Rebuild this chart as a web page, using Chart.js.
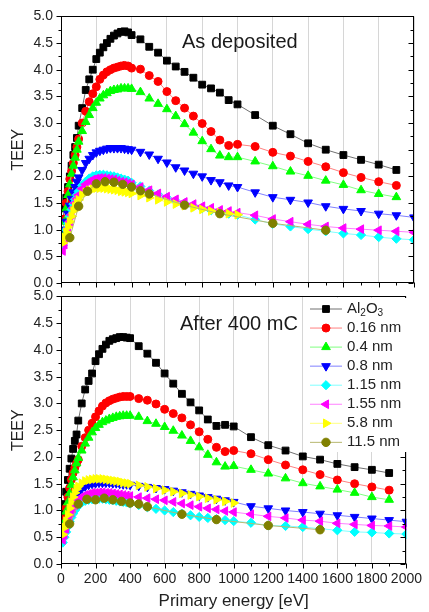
<!DOCTYPE html>
<html>
<head>
<meta charset="utf-8">
<title>TEEY</title>
<script src="https://cdn.jsdelivr.net/npm/chart.js@4.4.1/dist/chart.umd.min.js"></script>
<style>
  body { margin: 0; background: #fff; }
  #wrap { position: relative; width: 429px; height: 612px; }
  canvas { position: absolute; left: 0; }
  #topPanel { top: 0; }
  #bottomPanel { top: 280px; }
</style>
</head>
<body>
<div id="wrap">
  <canvas id="topPanel" width="429" height="300"></canvas>
  <canvas id="bottomPanel" width="429" height="332"></canvas>
</div>
<script>
// Primary energy [eV]
const energy = [10, 20, 30, 40, 50, 60, 70, 80, 90, 100,
  120, 140, 160, 180, 200, 220, 240, 260, 280, 300, 320, 340, 360, 380, 400,
  450, 500, 550, 600, 650, 700, 750, 800, 850, 900, 950, 1000,
  1100, 1200, 1300, 1400, 1500, 1600, 1700, 1800, 1900, 2000];
const energyOlive = [50, 100, 150, 200, 250, 300, 350, 400, 450, 500, 700, 900, 1200, 1500];

const seriesNames = ['Al2O3', '0.16 nm', '0.4 nm', '0.8 nm', '1.15 nm', '1.55 nm', '5.8 nm', '11.5 nm'];
const yTicks = [0, 0.5, 1, 1.5, 2, 2.5, 3, 3.5, 4, 4.5, 5];
const xTicks = [0, 200, 400, 600, 800, 1000, 1200, 1400, 1600, 1800, 2000];

// As deposited
const dep_Al2O3 = [1.20, 1.40, 1.60, 1.80, 2.00, 2.20, 2.40, 2.55, 2.72, 2.95,
  3.28, 3.62, 3.82, 4.00, 4.20, 4.32, 4.42, 4.50, 4.58, 4.64, 4.68, 4.71, 4.72, 4.70, 4.65,
  4.57, 4.43, 4.32, 4.17, 4.06, 3.96, 3.85, 3.72, 3.65, 3.57, 3.43, 3.35,
  3.15, 2.95, 2.79, 2.62, 2.50, 2.40, 2.31, 2.22, 2.12];
const dep_0_16 = [0.95, 1.20, 1.50, 1.72, 1.95, 2.10, 2.25, 2.40, 2.55, 2.70,
  3.00, 3.22, 3.40, 3.55, 3.68, 3.82, 3.90, 3.96, 4.00, 4.03, 4.05, 4.07, 4.08, 4.07, 4.03,
  4.01, 3.89, 3.78, 3.59, 3.42, 3.28, 3.13, 2.99, 2.84, 2.68, 2.58, 2.60,
  2.56, 2.45, 2.38, 2.28, 2.18, 2.07, 1.98, 1.90, 1.83];
const dep_0_4 = [0.95, 1.15, 1.40, 1.65, 1.85, 2.05, 2.20, 2.35, 2.50, 2.65,
  2.85, 3.02, 3.15, 3.28, 3.38, 3.46, 3.52, 3.56, 3.60, 3.62, 3.63, 3.65, 3.65, 3.65, 3.64,
  3.58, 3.46, 3.36, 3.26, 3.13, 2.98, 2.82, 2.66, 2.51, 2.39, 2.36, 2.36,
  2.28, 2.19, 2.09, 2.01, 1.92, 1.84, 1.74, 1.67, 1.61];
const dep_0_8 = [0.85, 1.00, 1.15, 1.30, 1.45, 1.58, 1.70, 1.80, 1.90, 1.98,
  2.12, 2.25, 2.33, 2.40, 2.45, 2.48, 2.50, 2.52, 2.53, 2.53, 2.53, 2.53, 2.52, 2.51, 2.50,
  2.46, 2.41, 2.33, 2.26, 2.17, 2.11, 2.05, 2.00, 1.93, 1.89, 1.83, 1.80,
  1.70, 1.61, 1.56, 1.51, 1.44, 1.39, 1.35, 1.30, 1.27, 1.23];
const dep_1_15 = [0.70, 0.85, 1.00, 1.12, 1.25, 1.38, 1.48, 1.57, 1.65, 1.72,
  1.83, 1.90, 1.96, 2.00, 2.02, 2.03, 2.03, 2.02, 2.01, 2.00, 1.98, 1.96, 1.94, 1.92, 1.88,
  1.81, 1.73, 1.66, 1.60, 1.54, 1.49, 1.44, 1.40, 1.36, 1.32, 1.30, 1.28,
  1.19, 1.11, 1.06, 1.01, 0.97, 0.93, 0.90, 0.86, 0.83, 0.81];
const dep_1_55 = [0.60, 0.72, 0.88, 1.02, 1.15, 1.28, 1.40, 1.50, 1.58, 1.65,
  1.77, 1.85, 1.90, 1.94, 1.96, 1.97, 1.97, 1.96, 1.95, 1.94, 1.92, 1.90, 1.89, 1.87, 1.85,
  1.80, 1.74, 1.68, 1.62, 1.57, 1.52, 1.48, 1.44, 1.41, 1.37, 1.35, 1.32,
  1.27, 1.20, 1.15, 1.10, 1.06, 1.03, 1.01, 0.99, 0.97, 0.95];
const dep_5_8 = [0.75, 0.85, 0.95, 1.05, 1.15, 1.25, 1.35, 1.43, 1.50, 1.56,
  1.65, 1.70, 1.74, 1.76, 1.78, 1.78, 1.78, 1.77, 1.76, 1.75, 1.74, 1.72, 1.71, 1.70, 1.68,
  1.64, 1.60, 1.56, 1.52, 1.48, 1.45, 1.41, 1.38, 1.35, 1.32, 1.30, 1.28];
const dep_11_5 = [0.85, 1.44, 1.72, 1.86, 1.90, 1.89, 1.85, 1.80, 1.73, 1.67, 1.46, 1.30, 1.12, 0.99];

// After 400 mC
const aft_Al2O3 = [0.98, 1.12, 1.35, 1.57, 1.78, 1.97, 2.15, 2.30, 2.42, 2.68,
  3.00, 3.26, 3.42, 3.56, 3.79, 3.92, 4.02, 4.10, 4.17, 4.20, 4.22, 4.24, 4.24, 4.23, 4.22,
  4.07, 3.93, 3.76, 3.56, 3.37, 3.18, 3.02, 2.87, 2.70, 2.58, 2.60, 2.57,
  2.37, 2.22, 2.12, 2.01, 1.95, 1.87, 1.81, 1.76, 1.70];
const aft_0_16 = [0.65, 0.85, 1.05, 1.25, 1.42, 1.58, 1.70, 1.80, 1.88, 1.95,
  2.20, 2.36, 2.50, 2.63, 2.75, 2.86, 2.95, 3.01, 3.05, 3.08, 3.10, 3.12, 3.13, 3.13, 3.13,
  3.09, 3.06, 2.99, 2.89, 2.81, 2.73, 2.60, 2.47, 2.33, 2.18, 2.10, 2.12,
  2.06, 1.95, 1.85, 1.76, 1.67, 1.57, 1.50, 1.44, 1.38];
const aft_0_4 = [0.60, 0.78, 0.98, 1.15, 1.32, 1.48, 1.62, 1.75, 1.88, 1.98,
  2.12, 2.25, 2.36, 2.46, 2.54, 2.60, 2.65, 2.68, 2.71, 2.73, 2.75, 2.76, 2.77, 2.77, 2.77,
  2.75, 2.67, 2.62, 2.56, 2.49, 2.40, 2.30, 2.18, 2.04, 1.90, 1.82, 1.83,
  1.76, 1.69, 1.60, 1.51, 1.45, 1.39, 1.33, 1.25, 1.20];
const aft_0_8 = [0.45, 0.58, 0.70, 0.82, 0.94, 1.05, 1.14, 1.22, 1.29, 1.34,
  1.41, 1.45, 1.48, 1.50, 1.51, 1.52, 1.52, 1.52, 1.52, 1.51, 1.51, 1.50, 1.49, 1.49, 1.48,
  1.46, 1.44, 1.42, 1.40, 1.37, 1.34, 1.31, 1.28, 1.25, 1.22, 1.19, 1.16,
  1.08, 1.04, 1.00, 0.97, 0.94, 0.91, 0.88, 0.85, 0.82, 0.79];
const aft_1_15 = [0.40, 0.50, 0.60, 0.70, 0.79, 0.87, 0.94, 1.00, 1.05, 1.09,
  1.15, 1.18, 1.20, 1.21, 1.22, 1.22, 1.22, 1.21, 1.20, 1.19, 1.18, 1.17, 1.16, 1.15, 1.13,
  1.10, 1.06, 1.03, 1.00, 0.97, 0.94, 0.91, 0.88, 0.86, 0.84, 0.82, 0.80,
  0.77, 0.72, 0.71, 0.69, 0.66, 0.63, 0.60, 0.59, 0.57, 0.56];
const aft_1_55 = [0.45, 0.55, 0.66, 0.77, 0.87, 0.96, 1.04, 1.10, 1.16, 1.20,
  1.25, 1.29, 1.31, 1.33, 1.33, 1.34, 1.34, 1.33, 1.33, 1.32, 1.31, 1.30, 1.29, 1.28, 1.27,
  1.25, 1.23, 1.21, 1.19, 1.16, 1.13, 1.10, 1.07, 1.04, 1.02, 0.99, 0.97,
  0.93, 0.89, 0.86, 0.82, 0.80, 0.76, 0.74, 0.72, 0.71, 0.69];
const aft_5_8 = [0.55, 0.68, 0.80, 0.92, 1.04, 1.15, 1.25, 1.33, 1.40, 1.45,
  1.51, 1.55, 1.57, 1.58, 1.59, 1.59, 1.59, 1.58, 1.57, 1.56, 1.55, 1.54, 1.52, 1.51, 1.50,
  1.47, 1.44, 1.41, 1.38, 1.35, 1.32, 1.29, 1.26, 1.23, 1.20, 1.17, 1.14];
const aft_11_5 = [0.75, 1.12, 1.21, 1.20, 1.23, 1.20, 1.17, 1.14, 1.12, 1.07, 0.93, 0.83, 0.72, 0.64];

const markColors = ['#000000', '#ff0000', '#00ff00', '#0000ff', '#00ffff', '#ff00ff', '#ffff00', '#808000'];
const lineColors = ['#707070', '#ff8080', '#80ff80', '#8080ff', '#80ffff', '#ff80ff', '#ffff80', '#b8b870'];
const markStyles = ['rect', 'circle', 'triangle', 'triangle', 'rectRot', 'triangle', 'triangle', 'circle'];
const markRotation = [0, 0, 0, 180, 0, 270, 90, 0];
const markRadius = [4.8, 4, 5, 5, 4.6, 5, 5, 4.2];

const FONT = "'Liberation Sans', Arial, sans-serif";
Chart.defaults.font.family = FONT;
Chart.defaults.color = '#222';

function buildDatasets(series) {
  return series.map((ys, i) => ({
    label: seriesNames[i],
    data: ys.map((v, k) => ({ x: (i === 7 ? energyOlive : energy)[k], y: v })),
    borderColor: lineColors[i],
    backgroundColor: markColors[i],
    pointBackgroundColor: markColors[i],
    pointBorderColor: markColors[i],
    pointBorderWidth: 1,
    pointStyle: markStyles[i],
    pointRotation: markRotation[i],
    pointRadius: markRadius[i],
    borderWidth: 1,
    tension: 0,
    order: 7 - i
  }));
}

function drawLegend(ctx) {
  ctx.fillStyle = '#fff';
  ctx.fillRect(309, 18, 104, 154);
  seriesNames.forEach((name, i) => {
    const yy = 29 + i * 19.05;
    ctx.strokeStyle = lineColors[i];
    ctx.lineWidth = 1;
    ctx.beginPath();
    ctx.moveTo(310, yy);
    ctx.lineTo(342, yy);
    ctx.stroke();
    ctx.fillStyle = markColors[i];
    ctx.strokeStyle = markColors[i];
    Chart.helpers.drawPoint(ctx, {
      pointStyle: markStyles[i], radius: markRadius[i], rotation: markRotation[i], borderWidth: 1
    }, 326, yy);
    ctx.fillStyle = '#222';
    ctx.textBaseline = 'middle';
    ctx.textAlign = 'left';
    if (i === 0) {
      // Al2O3 with subscripts
      let x = 347;
      const parts = [['Al', false], ['2', true], ['O', false], ['3', true]];
      parts.forEach(([t, sub]) => {
        ctx.font = (sub ? '10px ' : '15px ') + FONT;
        ctx.fillText(t, x, sub ? yy + 4 : yy);
        x += ctx.measureText(t).width;
      });
    } else {
      ctx.font = '15px ' + FONT;
      ctx.fillText(name, 347, yy);
    }
  });
}

const framePlugin = {
  id: 'frame',
  afterDatasetsDraw(chart, args, opts) {
    const { ctx, chartArea: a, scales: { x, y } } = chart;
    ctx.save();
    ctx.strokeStyle = '#000';
    ctx.lineWidth = 1;
    const L = Math.round(a.left) + 0.5, R = Math.round(a.right) - 0.5;
    const T = Math.round(a.top) + 0.5, B = Math.round(a.bottom) - 0.5;
    ctx.strokeRect(L, T, R - L, B - T);
    ctx.beginPath();
    for (let v = 0; v <= 5.0001; v += 0.25) {
      const py = Math.round(y.getPixelForValue(v)) + 0.5;
      const len = Math.abs(v * 2 - Math.round(v * 2)) < 1e-6 ? 5 : 3;
      ctx.moveTo(L - len, py); ctx.lineTo(L, py);
      ctx.moveTo(R, py); ctx.lineTo(R - len, py);
    }
    for (let v = 0; v <= 2000; v += 100) {
      const px = Math.round(x.getPixelForValue(v)) + 0.5;
      const len = v % 200 === 0 ? 5 : 3;
      ctx.moveTo(px, B); ctx.lineTo(px, B + len);
    }
    ctx.stroke();
    if (opts.legend) drawLegend(ctx);
    ctx.fillStyle = '#1a1a1a';
    ctx.font = '20px ' + FONT;
    ctx.textBaseline = 'alphabetic';
    ctx.textAlign = 'left';
    ctx.fillText(opts.note, opts.noteX, opts.noteY);
    ctx.restore();
  }
};

function makePanel(id, series, showX, padTop, xHeight, note, noteX, noteY, legend) {
  return new Chart(document.getElementById(id), {
    type: 'line',
    data: { datasets: buildDatasets(series) },
    plugins: [framePlugin],
    options: {
      responsive: false,
      animation: false,
      layout: { padding: { top: padTop, right: 15, left: 0, bottom: 0 } },
      plugins: {
        legend: { display: false },
        tooltip: { enabled: false },
        frame: { note, noteX, noteY, legend }
      },
      scales: {
        x: {
          type: 'linear',
          min: 0, max: 2000,
          afterBuildTicks: s => { s.ticks = xTicks.map(v => ({ value: v })); },
          ticks: { display: showX, font: { size: 14 }, padding: 7, maxRotation: 0, callback: v => String(v) },
          grid: { display: true, color: '#d6d6d6', drawTicks: false },
          border: { display: false },
          title: {
            display: showX, text: 'Primary energy [eV]',
            font: { size: 17 }, padding: { top: 0, bottom: 0 }
          },
          afterFit: s => { s.height = xHeight; }
        },
        y: {
          min: 0, max: 5,
          afterBuildTicks: s => { s.ticks = yTicks.map(v => ({ value: v })); },
          ticks: { font: { size: 14 }, padding: 8, callback: v => v.toFixed(1) },
          grid: { display: false, drawTicks: false },
          border: { display: false },
          title: { display: true, text: 'TEEY', font: { size: 16 }, padding: { top: 9, bottom: 0 } },
          afterFit: s => { s.width = 61; }
        }
      }
    }
  });
}

makePanel('topPanel',
  [dep_Al2O3, dep_0_16, dep_0_4, dep_0_8, dep_1_15, dep_1_55, dep_5_8, dep_11_5],
  false, 15, 17, 'As deposited', 182, 47.5, false);
makePanel('bottomPanel',
  [aft_Al2O3, aft_0_16, aft_0_4, aft_0_8, aft_1_15, aft_1_55, aft_5_8, aft_11_5],
  true, 15, 48, 'After 400 mC', 180, 50, true);
</script>
</body>
</html>
